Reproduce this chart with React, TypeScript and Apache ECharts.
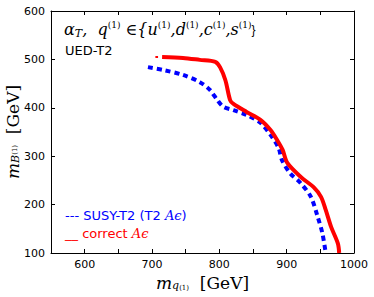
import React, { useEffect, useRef } from "react";
import * as echarts from "echarts";

const xTicks = [600, 700, 800, 900, 1000];
const yTicks = [100, 200, 300, 400, 500, 600];

const redX = [715, 746, 771, 794, 801, 809, 816, 821, 841, 861, 876, 886, 894, 901, 921, 940, 951, 958, 966, 976, 978];
const redY = [505, 503, 499, 495, 484, 457, 416, 408, 391, 375, 354, 333, 313, 286, 257, 236, 216, 189, 154, 120, 100];
const redStubX = [705, 709];
const redStubY = [505, 505];
const blueX = [694, 717, 746, 771, 786, 797, 806, 821, 841, 861, 876, 888, 893, 905, 921, 936, 946, 953, 958];
const blueY = [484, 478, 468, 453, 437, 416, 402, 395, 385, 369, 344, 317, 292, 265, 244, 216, 175, 141, 100];

const zip = (xs: number[], ys: number[]) => xs.map((x, i) => [x, ys[i]]);

export default function App() {
  const ref = useRef<HTMLDivElement>(null);
  useEffect(() => {
    if (!ref.current) return;
    const chart = echarts.init(ref.current, undefined, { renderer: "svg" });
    const serif = "DejaVu Serif";
    const sans = "DejaVu Sans";
    const axisCommon = {
      type: "value" as const,
      axisLine: { show: true, onZero: false, lineStyle: { color: "#000", width: 1 } },
      axisTick: { show: true, inside: true, length: 4, lineStyle: { color: "#000" } },
      splitLine: { show: false },
    };
    chart.setOption({
      animation: false,
      grid: { left: 51, right: 20, top: 11, bottom: 44, containLabel: false, outerBoundsMode: "none" },
      xAxis: [
        {
          ...axisCommon,
          min: 550,
          max: 1000,
          interval: 50,
          axisLabel: {
            color: "#000",
            fontFamily: sans,
            fontSize: 11,
            margin: 6,
            formatter: (v: number) => (xTicks.includes(v) ? String(v) : ""),
          },
          axisTick: { ...axisCommon.axisTick, interval: (i: number, v: any) => xTicks.includes(Number(v)) },
          name: "{m|m}{s|q}{ss|(1)}{b|  [GeV]}",
          nameLocation: "middle",
          nameGap: 21,
          nameMoveOverlap: false,
          nameTextStyle: {
            rich: {
              m: { fontFamily: serif, fontStyle: "italic", fontSize: 17, color: "#000" },
              s: { fontFamily: serif, fontStyle: "italic", fontSize: 11, color: "#000", verticalAlign: "bottom", padding: [6, 0, 0, 0] },
              ss: { fontFamily: serif, fontSize: 7, color: "#000", verticalAlign: "bottom", padding: [2, 0, 0, 0] },
              b: { fontFamily: serif, fontSize: 17, color: "#000" },
            },
          },
        },
        {
          ...axisCommon,
          position: "top",
          min: 550,
          max: 1000,
          interval: 50,
          axisLabel: { show: false },
          axisTick: { ...axisCommon.axisTick, interval: (i: number, v: any) => xTicks.includes(Number(v)) },
        },
      ],
      yAxis: [
        {
          ...axisCommon,
          min: 100,
          max: 600,
          interval: 100,
          axisLabel: { color: "#000", fontFamily: sans, fontSize: 11, margin: 6 },
          name: "{m|m}{s|B}{ss|(1)}{b|  [GeV]}",
          nameLocation: "middle",
          nameGap: 30,
          nameMoveOverlap: false,
          nameTextStyle: {
            rich: {
              m: { fontFamily: serif, fontStyle: "italic", fontSize: 17, color: "#000" },
              s: { fontFamily: serif, fontStyle: "italic", fontSize: 11, color: "#000", verticalAlign: "bottom", padding: [4, 0, 0, 0] },
              ss: { fontFamily: serif, fontSize: 7, color: "#000", verticalAlign: "bottom", padding: [0, 0, 3, 0] },
              b: { fontFamily: serif, fontSize: 17, color: "#000" },
            },
          },
        },
        {
          ...axisCommon,
          position: "right",
          min: 100,
          max: 600,
          interval: 100,
          axisLabel: { show: false },
        },
      ],
      series: [
        {
          type: "line",
          data: zip(blueX, blueY),
          symbol: "none",
          smooth: 0.3,
          lineStyle: { color: "#0000ff", width: 4, type: [5, 4] },
        },
        {
          type: "line",
          data: zip(redX, redY),
          symbol: "none",
          smooth: 0.3,
          lineStyle: { color: "#ff0000", width: 4 },
        },
        {
          type: "line",
          data: zip(redStubX, redStubY),
          symbol: "none",
          lineStyle: { color: "#ff0000", width: 2 },
        },
      ],
      graphic: [
        {
          type: "text",
          left: 64,
          top: 20,
          style: {
            text: "{a|α}{sub|T}{a|,  q}{sup|(1)}{a| ∈{u}{sup|(1)}{a|,d}{sup|(1)}{a|,c}{sup|(1)}{a|,s}{sup|(1)}{a|}}",
            rich: {
              a: { fontFamily: serif, fontStyle: "italic", fontSize: 16, fill: "#000" },
              sub: { fontFamily: serif, fontStyle: "italic", fontSize: 11, fill: "#000", padding: [8, 0, 0, 0] },
              sup: { fontFamily: serif, fontSize: 9, fill: "#000", padding: [0, 0, 10, 0] },
            },
          },
        },
        {
          type: "text",
          left: 65,
          top: 44,
          style: { text: "UED-T2", fontFamily: sans, fontSize: 13, fill: "#000" },
        },
        {
          type: "text",
          left: 65,
          top: 209,
          style: {
            text: "{n|--- SUSY-T2 (T2 }{i|Aϵ}{n|)}",
            rich: {
              n: { fontFamily: sans, fontSize: 13, fill: "#0000ff" },
              i: { fontFamily: serif, fontStyle: "italic", fontSize: 13, fill: "#0000ff" },
            },
          },
        },
        {
          type: "text",
          left: 65,
          top: 227,
          style: {
            text: "{n|__ correct }{i|Aϵ}",
            rich: {
              n: { fontFamily: sans, fontSize: 13, fill: "#ff0000" },
              i: { fontFamily: serif, fontStyle: "italic", fontSize: 13, fill: "#ff0000" },
            },
          },
        },
      ],
    });
    return () => chart.dispose();
  }, []);
  return <div ref={ref} style={{ width: 374, height: 297, position: "absolute", left: 0, top: 0 }} />;
}
